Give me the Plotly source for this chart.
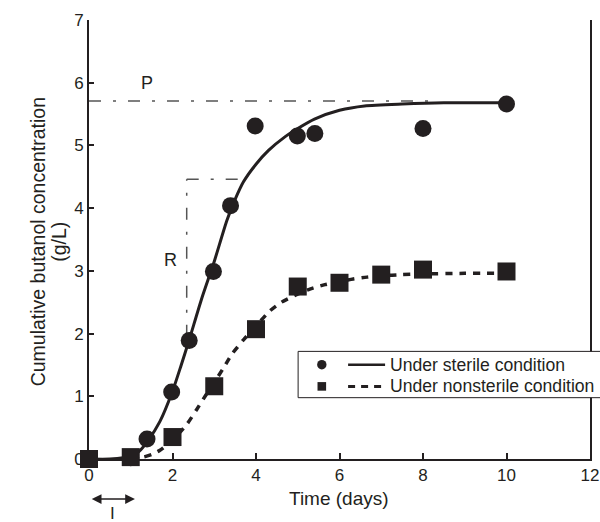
import plotly.graph_objects as go

# ---- data ----
sterile_t = [0, 1, 1.39, 1.98, 2.4, 2.98, 3.39, 3.98, 4.99, 5.41, 8.0, 10.0]
sterile_y = [0, 0.02, 0.32, 1.07, 1.89, 2.99, 4.04, 5.31, 5.15, 5.19, 5.27, 5.66]

nonsterile_t = [0, 1, 2, 3, 4, 5, 6, 7, 8, 10]
nonsterile_y = [0, 0.03, 0.35, 1.16, 2.07, 2.75, 2.81, 2.94, 3.02, 2.99]

sterile_fit_t = [0, 0.5, 1.0, 1.2, 1.4, 1.7, 2.0, 2.2, 2.4, 2.7, 3.0, 3.3, 3.5, 3.7, 4.0, 4.3,
                 4.7, 5.0, 5.4, 6.0, 6.6, 7.5, 8.5, 10]
sterile_fit_y = [0, 0, 0.04, 0.12, 0.28, 0.6, 1.08, 1.48, 1.9, 2.56, 3.15, 3.8, 4.14, 4.42, 4.7,
                 4.92, 5.14, 5.27, 5.42, 5.56, 5.63, 5.66, 5.68, 5.68]

nonsterile_fit_t = [1.0, 1.3, 1.5, 1.7, 2.0, 2.34, 2.58, 2.8, 3.0, 3.22, 3.42, 3.7, 4.0, 4.33,
                    4.61, 4.97, 5.29, 5.65, 6.0, 6.33, 6.66, 7.0, 7.5, 8.0, 9.0, 10]
nonsterile_fit_y = [0.0, 0.03, 0.07, 0.14, 0.3, 0.55, 0.79, 1.02, 1.22, 1.45, 1.67, 1.9, 2.12,
                    2.36, 2.5, 2.62, 2.71, 2.78, 2.83, 2.87, 2.9, 2.92, 2.94, 2.95, 2.96, 2.96]

# annotation guide values (P, R, lag I)
P_level = 5.71
P_end = 8.2
R_x = 2.34
R_y0 = 1.95
R_y1 = 4.46
R_x1 = 3.69
lag_start = 0.03
lag_end = 1.1

legend_labels = ["Under sterile condition", "Under nonsterile condition"]
y_title_lines = ["Cumulative butanol concentration", "(g/L)"]
x_title = "Time (days)"

INK = "#231f20"
GUIDE = "#555555"
FONT = "Liberation Sans, Arial, sans-serif"

# page body margin is removed in post_script, so the figure sits at the page origin
OFF = 0
PLOT_L, PLOT_T, PLOT_W, PLOT_H = 88.8, 20.4, 501.2, 438.9  # in page pixels

fig = go.Figure()

fig.add_trace(go.Scatter(x=sterile_fit_t, y=sterile_fit_y, mode="lines",
                         line=dict(color=INK, width=3, shape="spline", smoothing=0.6),
                         showlegend=False, hoverinfo="skip"))
fig.add_trace(go.Scatter(x=nonsterile_fit_t, y=nonsterile_fit_y, mode="lines",
                         line=dict(color=INK, width=3.5, dash="7px,7px", shape="spline", smoothing=0.6),
                         showlegend=False, hoverinfo="skip"))
fig.add_trace(go.Scatter(x=sterile_t, y=sterile_y, mode="markers",
                         marker=dict(symbol="circle", size=17, color=INK),
                         showlegend=False, cliponaxis=False))
fig.add_trace(go.Scatter(x=nonsterile_t, y=nonsterile_y, mode="markers",
                         marker=dict(symbol="square", size=18, color=INK),
                         showlegend=False, cliponaxis=False))

dashdot = "12px,12px,3px,12px"
shapes = [
    dict(type="line", xref="x", yref="y", x0=0, x1=P_end, y0=P_level, y1=P_level,
         line=dict(color=GUIDE, width=1.5, dash=dashdot), layer="below"),
    dict(type="line", xref="x", yref="y", x0=R_x, x1=R_x, y0=R_y0, y1=R_y1,
         line=dict(color=GUIDE, width=1.5, dash=dashdot), layer="below"),
    dict(type="line", xref="x", yref="y", x0=R_x, x1=R_x1, y0=R_y1, y1=R_y1,
         line=dict(color=GUIDE, width=1.5, dash=dashdot), layer="below"),
]

# custom legend (paper coords from page pixels)
def px2paper_x(px):
    return (px - PLOT_L) / PLOT_W

def px2paper_y(py):
    return (PLOT_T + PLOT_H - py) / PLOT_H

shapes.append(dict(type="rect", xref="paper", yref="paper",
                   x0=px2paper_x(298), x1=px2paper_x(606), y0=px2paper_y(398), y1=px2paper_y(351.7),
                   line=dict(color=INK, width=1), fillcolor="white", layer="above"))
rows = [365, 386.7]
mx = px2paper_x(321.7)
shapes.append(dict(type="circle", xref="paper", yref="paper", xsizemode="pixel", ysizemode="pixel",
                   xanchor=mx, yanchor=px2paper_y(rows[0]), x0=-4.7, x1=4.7, y0=-4.7, y1=4.7,
                   fillcolor=INK, line=dict(width=0), layer="above"))
shapes.append(dict(type="rect", xref="paper", yref="paper", xsizemode="pixel", ysizemode="pixel",
                   xanchor=mx, yanchor=px2paper_y(rows[1]), x0=-4.3, x1=4.3, y0=-4.3, y1=4.3,
                   fillcolor=INK, line=dict(width=0), layer="above"))
shapes.append(dict(type="line", xref="paper", yref="paper",
                   x0=px2paper_x(348), x1=px2paper_x(385), y0=px2paper_y(rows[0]), y1=px2paper_y(rows[0]),
                   line=dict(color=INK, width=2.5), layer="above"))
shapes.append(dict(type="line", xref="paper", yref="paper",
                   x0=px2paper_x(348), x1=px2paper_x(387), y0=px2paper_y(rows[1]), y1=px2paper_y(rows[1]),
                   line=dict(color=INK, width=3, dash="7px,6px"), layer="above"))

annotations = []
for lab, r in zip(legend_labels, rows):
    annotations.append(dict(xref="paper", yref="paper", x=px2paper_x(388), y=px2paper_y(r),
                            text=lab, showarrow=False, xanchor="left", yanchor="middle",
                            font=dict(family=FONT, size=17.6, color=INK)))

# axis titles as annotations (tighter line spacing than a two-line axis title)
for txt, cx in zip(y_title_lines, [38, 58.5]):
    annotations.append(dict(xref="paper", yref="paper", x=px2paper_x(cx), y=px2paper_y(242.5),
                            text=txt, showarrow=False, textangle=-90,
                            xanchor="center", yanchor="middle",
                            font=dict(family=FONT, size=19.5, color=INK)))
annotations.append(dict(xref="paper", yref="paper", x=px2paper_x(339), y=px2paper_y(499),
                        text=x_title, showarrow=False, xanchor="center", yanchor="middle",
                        font=dict(family=FONT, size=19, color=INK)))

annotations.append(dict(xref="x", yref="y", x=1.385, y=6.0, text="P", showarrow=False,
                        font=dict(family=FONT, size=18, color=INK)))
annotations.append(dict(xref="x", yref="y", x=1.94, y=3.18, text="R", showarrow=False,
                        font=dict(family=FONT, size=18, color=INK)))
annotations.append(dict(xref="x", yref="paper", x=lag_end, y=px2paper_y(499.3),
                        axref="pixel", ayref="pixel", ax=-(lag_end - lag_start) * PLOT_W / 12, ay=0,
                        text="", showarrow=True, arrowhead=2,
                        arrowside="end+start", arrowsize=1.3, arrowwidth=1.5, arrowcolor=INK))
annotations.append(dict(xref="x", yref="paper", x=0.57, y=px2paper_y(514), text="I",
                        showarrow=False, yanchor="middle",
                        font=dict(family=FONT, size=17, color=INK)))

W, H = 600, 522
ml = PLOT_L - OFF
mt = PLOT_T - OFF
fig.update_layout(
    width=W, height=H,
    margin=dict(l=ml, r=W - ml - PLOT_W, t=mt, b=H - mt - PLOT_H, pad=0, autoexpand=False),
    paper_bgcolor="white", plot_bgcolor="white",
    font=dict(family=FONT, size=17, color=INK),
    shapes=shapes, annotations=annotations,
    showlegend=False,
)
fig.update_xaxes(range=[0, 12], tickvals=[0, 2, 4, 6, 8, 10, 12], ticks="inside", ticklen=6,
                 tickwidth=1.5, tickcolor=INK, showline=True, linecolor=INK, linewidth=2,
                 showgrid=False, zeroline=False, automargin=False,
                 tickfont=dict(size=17))
fig.update_yaxes(range=[0, 7], tickvals=[0, 1, 2, 3, 4, 5, 6, 7], ticks="inside", ticklen=5,
                 tickwidth=1.5, tickcolor=INK, showline=True, linecolor=INK, linewidth=2,
                 mirror=True, showgrid=False, zeroline=False, automargin=False,
                 tickfont=dict(size=17))

fig.write_html("out.html", config={"displayModeBar": False},
               post_script="document.body.style.margin='0';document.body.style.overflow='hidden';")
